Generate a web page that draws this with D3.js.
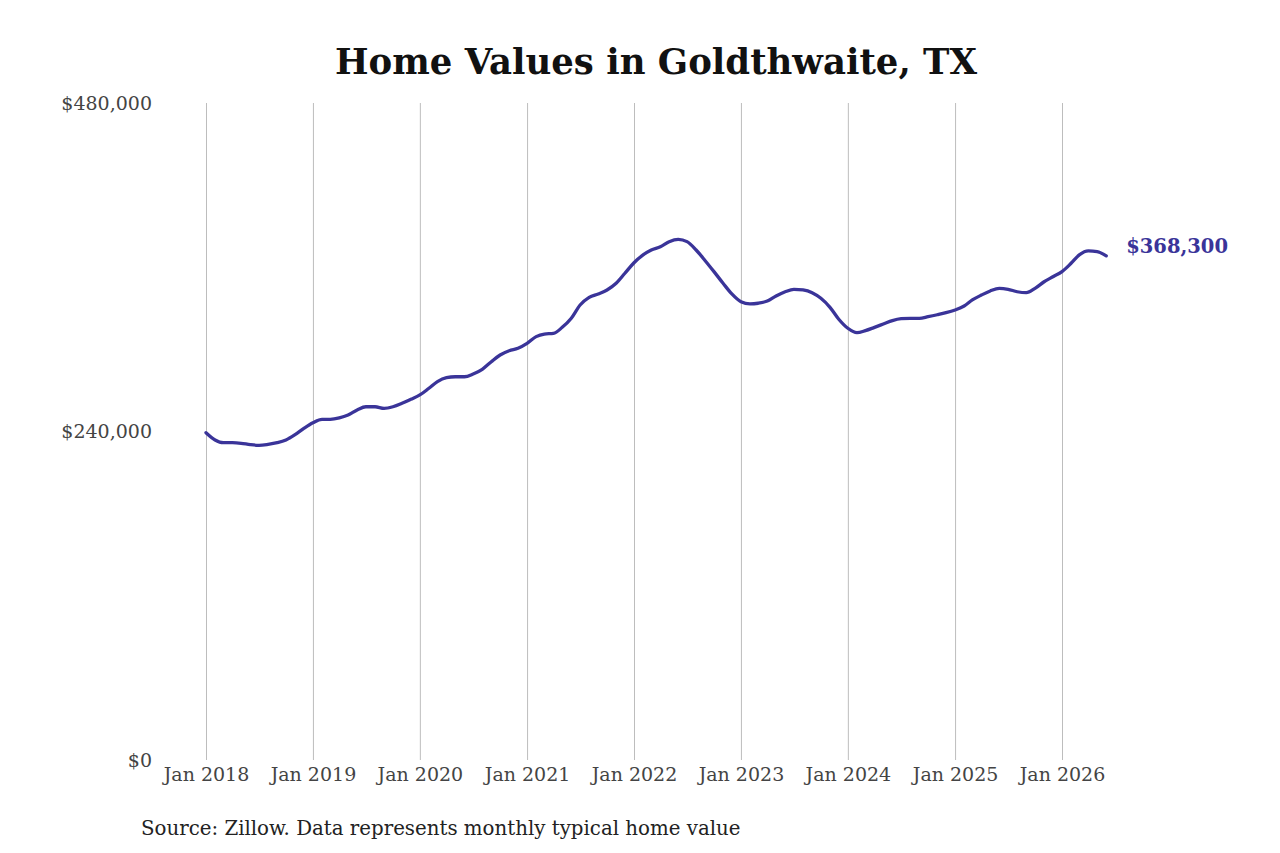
<!DOCTYPE html>
<html>
<head>
<meta charset="utf-8">
<script src="https://cdn.jsdelivr.net/npm/d3@7"></script>
<style>
  body { margin: 0; background: #fff; }
  text { font-family: "DejaVu Serif", serif; }
</style>
</head>
<body>
<svg id="chart"></svg>
<script>
// monthly typical home value, Jan 2018 .. Jun 2026
const start_month = new Date(2018, 0, 1);
const values = [
  239100, 233800, 231800, 231800, 231400, 230400, 229900, 230600, 231800, 233800, 237700, 242300,
  246400, 248900, 248900, 249900, 252000, 255700, 258100, 258100, 256900, 258100, 260600, 263500,
  266700, 271600, 276400, 279300, 280000, 280000, 282000, 285400, 291000, 295900, 299000, 300800,
  304400, 309300, 311200, 311700, 316100, 322700, 332400, 338000, 340500, 343400, 348300, 355600,
  363300, 369000, 372600, 375000, 378700, 380400, 378700, 372600, 364800, 356800, 348300, 340500,
  334800, 333200, 333700, 335300, 339000, 342100, 343900, 343400, 341400, 337300, 330700, 322000,
  315400, 312200, 313700, 316100, 318500, 321000, 322400, 322700, 322700, 323900, 325300, 326800,
  328800, 331700, 336100, 339700, 342700, 344600, 343900, 342100, 341400, 344600, 349400, 353100,
  356800, 362900, 369000, 371900, 371400, 368300
];
const y_ticks = [0, 240000, 480000];
const x_tick_years = [2018, 2019, 2020, 2021, 2022, 2023, 2024, 2025, 2026];

const data = values.map((v, i) => [d3.timeMonth.offset(start_month, i), v]);

const width = 1280, height = 853;
const margin = {"left": 206, "right": 173, "top": 103, "bottom": 93};

const svg = d3.select("#chart")
  .attr("width", width)
  .attr("height", height);

const scale_x = d3.scaleTime()
  .domain([new Date(2018, 0, 1), new Date(2026, 0, 1)])
  .range([margin.left, 1062]);
const scale_y = d3.scaleLinear()
  .domain([0, 480000])
  .range([height - margin.bottom, margin.top]);

svg.append("text")
  .attr("x", 656)
  .attr("y", 74)
  .attr("text-anchor", "middle")
  .attr("font-size", 35.5)
  .attr("font-weight", "bold")
  .attr("fill", "#111")
  .text("Home Values in Goldthwaite, TX");

// vertical gridlines + year labels
const x_axis = svg.append("g")
  .attr("transform", `translate(0,${scale_y(0)})`)
  .call(d3.axisBottom(scale_x)
    .tickValues(x_tick_years.map(y => new Date(y, 0, 1)))
    .tickSize(-(scale_y(0) - scale_y(480000)))
    .tickFormat(d3.timeFormat("Jan %Y")))
  .call(g => g.select(".domain").remove())
  .call(g => g.selectAll(".tick line").attr("stroke", "#bdbdbd").attr("stroke-width", 1))
  .call(g => g.selectAll(".tick text")
    .attr("y", 8)
    .attr("font-family", "DejaVu Serif, serif")
    .attr("font-size", 19)
    .attr("fill", "#444"));

const y_axis = svg.append("g")
  .attr("transform", `translate(152,0)`)
  .call(d3.axisLeft(scale_y)
    .tickValues(y_ticks)
    .tickSize(0)
    .tickFormat(d => "$" + d3.format(",")(d)))
  .call(g => g.select(".domain").remove())
  .call(g => g.selectAll(".tick text")
    .attr("x", 0)
    .attr("font-family", "DejaVu Serif, serif")
    .attr("font-size", 19)
    .attr("fill", "#444"));

const line = d3.line()
  .curve(d3.curveMonotoneX)
  .x(d => scale_x(d[0]))
  .y(d => scale_y(d[1]));

svg.append("path")
  .datum(data)
  .attr("fill", "none")
  .attr("stroke", "#3a3499")
  .attr("stroke-width", 3.3)
  .attr("stroke-linejoin", "round")
  .attr("stroke-linecap", "round")
  .attr("d", line);

const last = data[data.length - 1];
svg.append("text")
  .attr("x", scale_x(last[0]) + 20)
  .attr("y", scale_y(last[1]) - 8)
  .attr("dominant-baseline", "middle")
  .attr("font-size", 19.5)
  .attr("font-weight", "bold")
  .attr("fill", "#3a3499")
  .text("$" + d3.format(",")(last[1]));

svg.append("text")
  .attr("x", 141)
  .attr("y", 835)
  .attr("font-size", 19.8)
  .attr("fill", "#222")
  .text("Source: Zillow. Data represents monthly typical home value");
</script>
</body>
</html>
